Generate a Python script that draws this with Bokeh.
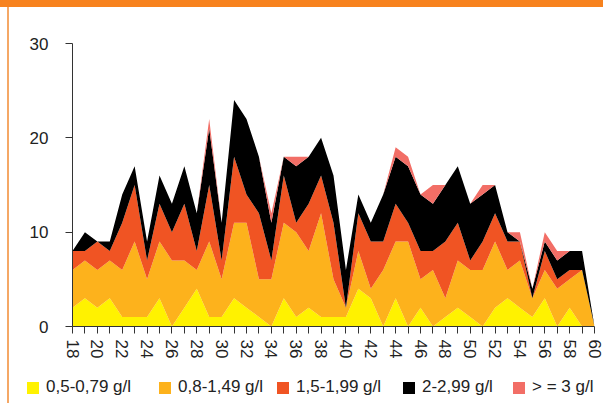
from bokeh.plotting import figure
from bokeh.layouts import column
from bokeh.models import ColumnDataSource, Range1d, FixedTicker, Legend, LegendItem, GlobalInlineStyleSheet
from bokeh.embed import file_html
from bokeh.resources import INLINE

ages = list(range(18, 61))
labels = ["0,5-0,79 g/l", "0,8-1,49 g/l", "1,5-1,99 g/l", "2-2,99 g/l", "> = 3 g/l"]
colors = ["#FFF200", "#FDB21C", "#F05423", "#000000", "#F26E66"]

s_05_079 = [2, 3, 2, 3, 1, 1, 1, 3, 0, 2, 4, 1, 1, 3, 2, 1, 0, 3, 1, 2, 1, 1, 1, 4, 3, 0,
            3, 0, 2, 0, 1, 2, 1, 0, 2, 3, 2, 1, 3, 0, 2, 0, 0]
s_08_149 = [4, 4, 4, 4, 5, 8, 4, 6, 7, 5, 2, 8, 4, 8, 9, 4, 5, 8, 9, 6, 11, 4, 1, 4, 1, 6,
            6, 9, 3, 6, 2, 5, 5, 6, 7, 3, 5, 2, 3, 4, 3, 6, 0]
s_15_199 = [2, 1, 3, 1, 5, 6, 2, 4, 3, 6, 2, 6, 2, 7, 3, 7, 2, 5, 1, 5, 4, 6, 0, 4, 5, 3,
            4, 2, 3, 2, 6, 4, 1, 3, 3, 3, 2, 0, 2, 1, 1, 0, 0]
s_2_299 = [0, 2, 0, 1, 3, 2, 2, 3, 3, 4, 4, 6, 4, 6, 8, 6, 4, 2, 6, 5, 4, 5, 4, 2, 2, 5,
           5, 6, 6, 5, 6, 6, 6, 5, 3, 1, 0, 1, 1, 2, 2, 2, 0]
s_3plus = [0, 0, 0, 0, 0, 0, 0, 0, 0, 0, 0, 1, 0, 0, 0, 0, 1, 0, 1, 0, 0, 0, 0, 0, 0, 0,
           1, 1, 0, 2, 0, 0, 0, 1, 0, 0, 1, 0, 1, 1, 0, 0, 0]

y_ticks = [0, 10, 20, 30]

source = ColumnDataSource(dict(x=ages, a=s_05_079, b=s_08_149, c=s_15_199, d=s_2_299, e=s_3plus))

fig = figure(width=603, height=366, output_backend="svg", toolbar_location=None,
             x_range=Range1d(18, 60), y_range=Range1d(0, 30),
             min_border_left=72, min_border_right=9, min_border_top=43, min_border_bottom=40)
fig.frame_align = False
fig.stylesheets = [GlobalInlineStyleSheet(css=(
    "body { background: linear-gradient(#F7821E, #F7821E) 0 0 / 100% 7px no-repeat, "
    "linear-gradient(#F5A866, #F5A866) 7px 0 / 2px 100% no-repeat, #ffffff; }"))]
fig.border_fill_color = None
fig.background_fill_color = "white"
fig.outline_line_color = None
fig.xgrid.visible = False
fig.ygrid.visible = False

fig.varea_stack(["a", "b", "c", "d", "e"], x="x", color=colors, source=source)

font = "Liberation Sans"
for ax in (fig.xaxis[0], fig.yaxis[0]):
    ax.axis_line_color = "#333333"
    ax.major_tick_line_color = "#333333"
    ax.major_tick_out = 7
    ax.major_tick_in = 0
    ax.minor_tick_line_color = None
    ax.major_label_text_font = font
    ax.major_label_text_font_size = "17px"
    ax.major_label_text_color = "#222222"

fig.xaxis.ticker = FixedTicker(ticks=ages)
fig.xaxis.major_label_overrides = {a: ("" if a % 2 else str(a)) for a in ages}
fig.xaxis.major_label_orientation = "vertical"
fig.xaxis.major_label_standoff = 6
fig.yaxis.ticker = FixedTicker(ticks=y_ticks)
fig.yaxis.major_label_standoff = 17

# legend strip (proxy swatches lie outside the strip's visible range)
leg = figure(width=603, height=37, output_backend="svg", toolbar_location=None,
             x_range=Range1d(0, 1), y_range=Range1d(0, 1),
             x_axis_location=None, y_axis_location=None, min_border=0)
leg.frame_align = False
leg.border_fill_color = None
leg.background_fill_color = None
leg.outline_line_color = None
leg.xgrid.visible = False
leg.ygrid.visible = False

item_x = [25, 157, 275, 401, 511]
for lab, col, x0 in zip(labels, colors, item_x):
    r = leg.quad(left=[-3], right=[-2], top=[-2], bottom=[-3], fill_color=col, line_color=None)
    lg = Legend(items=[LegendItem(label=lab, renderers=[r])],
                orientation="horizontal", location=(x0, 6),
                padding=0, margin=0, spacing=0, label_standoff=6,
                glyph_width=15, glyph_height=15,
                label_text_font=font, label_text_font_size="17px",
                label_text_color="#222222",
                border_line_color=None, background_fill_alpha=0)
    leg.add_layout(lg)

p = column(fig, leg, spacing=0)

open("out.html", "w").write(file_html(p, INLINE))
